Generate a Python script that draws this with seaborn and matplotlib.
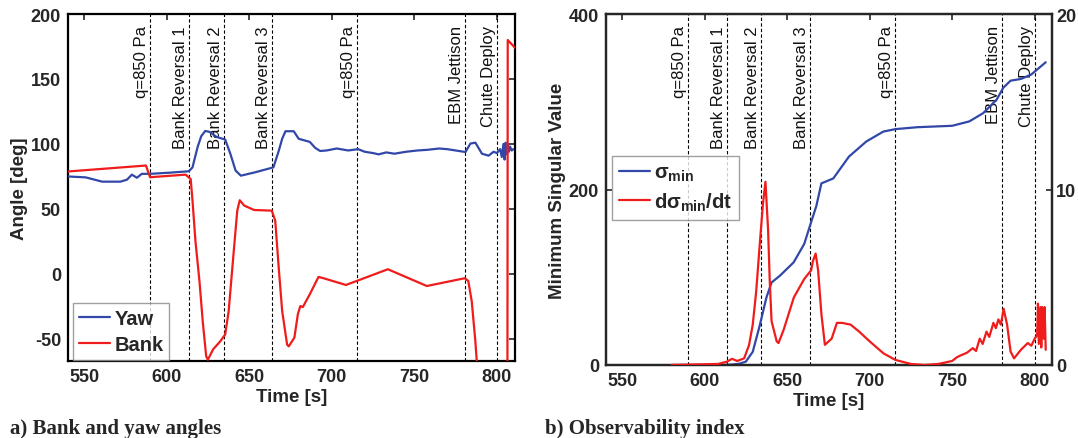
import numpy as np
import pandas as pd
import matplotlib
matplotlib.use("Agg")
import matplotlib.pyplot as plt
import seaborn as sns
from matplotlib.lines import Line2D

# ---------------- data ----------------
event_times = [590, 613.5, 634.5, 664, 715.5, 780.5, 800]
event_labels = ["q=850 Pa", "Bank Reversal 1", "Bank Reversal 2", "Bank Reversal 3",
                "q=850 Pa", "EBM Jettison", "Chute Deploy"]

t_yaw = [540, 551, 561, 572, 576, 579, 582, 585, 590, 603, 613.5, 615.7, 618.8, 621, 623.4,
         626, 630.3, 635.5, 638.6, 641.8, 645, 653, 664.7, 668, 670, 672, 677, 680, 686.7,
         690, 693, 697, 703, 710, 716, 720, 725, 728.4, 733, 738, 745, 752, 758, 765, 770,
         775, 781, 784, 787, 791, 795, 798, 800, 802, 803, 804, 804.7, 805.3, 806, 806.7,
         807.3, 808, 809, 810]
yaw = [75, 74.3, 71, 71, 72.5, 76.4, 74, 77, 77, 78, 79, 82, 97.7, 106, 110,
       109.3, 105.4, 103.4, 92.5, 79.5, 75.6, 78, 82, 95, 104, 109.8, 109.8, 104, 101.6,
       97, 94.6, 95, 96.5, 95, 96, 94, 93, 92, 93.5, 92.5, 94, 95, 95.5, 96.5, 96,
       95, 93.8, 100.3, 101, 92.5, 91, 94, 93, 96, 90, 100, 88, 101, 92, 100,
       94, 98, 95, 96]

t_bank = [540, 587.5, 590, 611.5, 614.6, 615.7, 617.5, 619.9, 622, 624, 625, 628.2, 632.4,
          635.5, 637.6, 640.7, 642.8, 644.3, 647, 653, 663.7, 665.8, 667.9, 670, 673, 674,
          677.4, 679.5, 681, 682.5, 686.7, 692, 695, 708.6, 716, 734, 757.6, 780.6, 782.7,
          784.8, 787, 788, 790, 806.4, 806.6, 811]
bank = [78.8, 83.4, 74.4, 76.4, 73, 56.4, 25, -5.4, -38, -63.4, -66, -58, -52,
        -46.6, -28.6, 17.8, 48.7, 56.7, 52.6, 49.2, 48.7, 41, 5, -28.6, -54.4, -55.7,
        -49, -31, -24.7, -25.5, -15.7, -2.3, -3.3, -8.5, -5, 3.6, -9.3, -3.3, -5.4,
        -21, -52, -70, -100, -100, 180, 174]

t_sig = [580, 610, 616.7, 621, 625, 629.2, 633.3, 637.5, 640.6, 645.8, 654, 660.4, 664.6,
         667.7, 670.8, 678, 687.5, 698, 708.3, 715.6, 729, 750, 760.4, 768.8, 777, 781,
         785.4, 791.7, 797.9, 806.7]
sigma_min = [0, 0, 0.5, 1.5, 3.8, 15, 44, 77, 94, 102, 117, 138, 163,
             181, 207, 212.6, 237.5, 254.7, 266, 268.8, 271, 272.6, 277.6, 287, 302.5, 316,
             324, 326, 331, 345]

t_dsig = [580, 608.3, 613.5, 616.7, 619.8, 624, 627, 629.2, 631.3, 633.3, 635.4, 636.9,
          638.5, 639.5, 640.6, 643.7, 644.8, 647.9, 654.1, 660.4, 664.6, 665.6, 667.3,
          668.8, 670.8, 672.9, 677, 680.2, 683.3, 688.5, 693.7, 700, 708.3, 715.6, 725,
          733.3, 741.7, 750, 753, 756, 759, 762.5, 764.5, 766.7, 768.5, 770.8, 772.5, 775,
          776.5, 778, 779.5, 781.2, 783.3, 785.4, 787.5, 791.7, 795.8, 798, 800, 801.5,
          802, 802.5, 803.5, 804, 804.5, 805.5, 806, 806.7]
dsigma = [0, 0.06, 0.19, 0.35, 0.23, 0.38, 1.15, 2.3, 4.2, 6.7, 9.2, 10.44,
          7.7, 4.8, 2.5, 1.35, 1.25, 2.0, 3.85, 4.9, 5.4, 5.9, 6.35,
          5.4, 2.9, 1.15, 1.5, 2.4, 2.4, 2.3, 1.9, 1.35, 0.67, 0.29, 0.06,
          0, 0.06, 0.23, 0.45, 0.58, 0.7, 0.96, 0.8, 1.5, 1.2, 1.9, 1.6, 2.4,
          2.1, 2.6, 2.3, 3.2, 2.3, 0.77, 0.38, 0.87, 1.25, 1.1, 1.5, 1.7,
          3.5, 1.2, 3.3, 1.0, 3.3, 1.5, 3.3, 0.87]

x_ticks = [550, 600, 650, 700, 750, 800]

# ---------------- style ----------------
sns.set_style("white")
plt.rcParams['font.family'] = ['Liberation Sans', 'DejaVu Sans']
plt.rcParams['axes.unicode_minus'] = False
plt.rcParams['mathtext.fontset'] = 'custom'
plt.rcParams['mathtext.rm'] = 'Liberation Sans:bold'
plt.rcParams['mathtext.it'] = 'Liberation Sans:bold'
plt.rcParams['mathtext.bf'] = 'Liberation Sans:bold'

BLUE = '#3148a8'
RED = '#f01c1c'
LW = 1.6

fig = plt.figure(figsize=(10.78, 4.39), dpi=100)
W, H = 1078, 439
ax1 = fig.add_axes([68 / W, 1 - 362 / H, 447 / W, 347 / H])
ax2 = fig.add_axes([606 / W, 1 - 366 / H, 446 / W, 351 / H])

def style_axis(ax, right=True):
    for s in ax.spines.values():
        s.set_linewidth(1.6)
        s.set_color('black')
    ax.tick_params(direction='in', length=4, width=1.2, top=True, right=right,
                   labelsize=13, pad=5)
    for lab in ax.get_xticklabels() + ax.get_yticklabels():
        lab.set_fontweight('bold')

def events(ax):
    for t, lab in zip(event_times, event_labels):
        ax.axvline(t, color='black', lw=0.8, ls=(0, (3, 2)), zorder=1)
        ax.text(t - 0.6, 0.968, lab, transform=ax.get_xaxis_transform(), rotation=90,
                ha='right', va='top', fontsize=12, color='#111111', zorder=2)

# ---------------- panel a ----------------
df_yaw = pd.DataFrame({'t': t_yaw, 'v': yaw})
df_bank = pd.DataFrame({'t': t_bank, 'v': bank})
events(ax1)
sns.lineplot(data=df_yaw, x='t', y='v', ax=ax1, color=BLUE, lw=LW, label='Yaw', zorder=3)
sns.lineplot(data=df_bank, x='t', y='v', ax=ax1, color=RED, lw=LW, label='Bank', zorder=4)
ax1.set_xlim(540.3, 811)
ax1.set_ylim(-67, 200)
ax1.set_xticks(x_ticks)
ax1.set_yticks([-50, 0, 50, 100, 150, 200])
ax1.set_xlabel('Time [s]', fontsize=13.5, fontweight='bold', labelpad=2)
ax1.set_ylabel('Angle [deg]', fontsize=13.5, fontweight='bold', labelpad=2)
style_axis(ax1)
leg1 = ax1.legend(loc='lower left', bbox_to_anchor=(5 / 447, 1 / 347),
                  frameon=True, fancybox=False, edgecolor='#888888', handlelength=1.55,
                  handletextpad=0.2, borderpad=0.3, labelspacing=0.35, borderaxespad=0.0,
                  prop={'weight': 'bold', 'size': 14.5})
leg1.get_frame().set_linewidth(1.0)

# ---------------- panel b ----------------
df_sig = pd.DataFrame({'t': t_sig, 'v': sigma_min})
df_d = pd.DataFrame({'t': t_dsig, 'v': dsigma})
events(ax2)
sns.lineplot(data=df_sig, x='t', y='v', ax=ax2, color=BLUE, lw=LW, zorder=3)
ax2.set_xlim(540.3, 810.5)
ax2.set_ylim(0, 400)
ax2.set_xticks(x_ticks)
ax2.set_yticks([0, 200, 400])
ax2.set_xlabel('Time [s]', fontsize=13.5, fontweight='bold', labelpad=2)
ax2.set_ylabel('Minimum Singular Value', fontsize=13.5, fontweight='bold', labelpad=2)
style_axis(ax2, right=False)

ax3 = ax2.twinx()
sns.lineplot(data=df_d, x='t', y='v', ax=ax3, color=RED, lw=LW, zorder=4)
ax3.set_ylim(0, 20)
ax3.set_yticks([0, 10, 20])
ax3.set_ylabel('')
ax3.tick_params(direction='in', length=4, width=1.2, labelsize=13, pad=3)
for lab in ax3.get_yticklabels():
    lab.set_fontweight('bold')
for s in ax3.spines.values():
    s.set_linewidth(1.6)

handles = [Line2D([], [], color=BLUE, lw=LW), Line2D([], [], color=RED, lw=LW)]
leg2 = ax3.legend(handles, [r'$\sigma_{\mathrm{min}}$', r'$d\sigma_{\mathrm{min}}/dt$'],
                  loc='upper left', bbox_to_anchor=(6 / 446, 1 - 142 / 351), fontsize=14.5,
                  frameon=True, fancybox=False, edgecolor='#888888', handlelength=1.55,
                  handletextpad=0.2, borderpad=0.35, labelspacing=0.35, borderaxespad=0.0)
leg2.get_frame().set_linewidth(1.0)

# ---------------- captions ----------------
fig.text(10 / W, 1 - 429 / H, 'a) Bank and yaw angles', family='Liberation Serif',
         fontweight='bold', fontsize=15, va='center', ha='left')
fig.text(545 / W, 1 - 429 / H, 'b) Observability index', family='Liberation Serif',
         fontweight='bold', fontsize=15, va='center', ha='left')

fig.savefig('out.png', dpi=100)
